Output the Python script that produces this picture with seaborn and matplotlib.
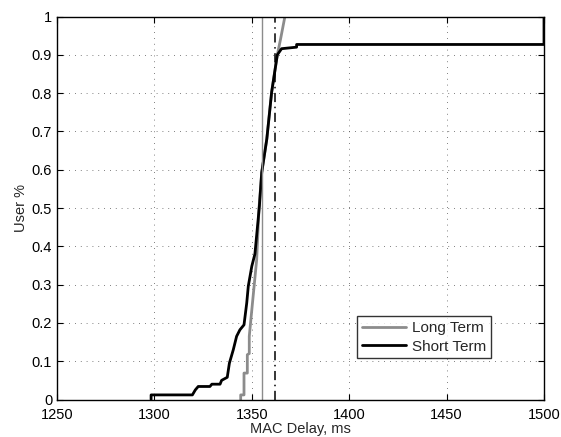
import matplotlib
matplotlib.use("Agg")
import matplotlib.pyplot as plt
import seaborn as sns
import pandas as pd

# Empirical CDF of MAC delay (ms) for the two scheduling policies
long_delay = [1344.3, 1344.3, 1346.0, 1346.0, 1347.7, 1347.7, 1348.7, 1348.7,
              1350.5, 1352.5, 1353.7, 1355.1, 1357.7, 1360.2, 1363.1, 1364.8, 1367.0]
long_cdf = [0.0, 0.012, 0.012, 0.069, 0.069, 0.117, 0.120, 0.165,
            0.260, 0.365, 0.500, 0.593, 0.680, 0.803, 0.900, 0.942, 1.0]

short_delay = [1298.3, 1298.3, 1319.5, 1321.0, 1322.5, 1328.5, 1329.5, 1333.7,
               1334.5, 1337.4, 1338.5, 1340.5, 1342.2, 1343.9, 1346.0, 1347.4,
               1348.2, 1350.0, 1351.6, 1353.9, 1355.1, 1357.7, 1360.2, 1363.1,
               1365.3, 1373.0, 1373.0, 1500.0, 1500.0]
short_cdf = [0.0, 0.012, 0.012, 0.025, 0.034, 0.034, 0.040, 0.040,
             0.050, 0.058, 0.095, 0.130, 0.165, 0.182, 0.195, 0.252,
             0.296, 0.348, 0.380, 0.505, 0.593, 0.680, 0.803, 0.900,
             0.916, 0.920, 0.927, 0.927, 1.0]

# Mean delays
long_mean = 1355.4
short_mean = 1362.0

x_ticks = [1250, 1300, 1350, 1400, 1450, 1500]
y_ticks = [0, 0.1, 0.2, 0.3, 0.4, 0.5, 0.6, 0.7, 0.8, 0.9, 1]
y_tick_labels = ["0", "0.1", "0.2", "0.3", "0.4", "0.5", "0.6", "0.7", "0.8", "0.9", "1"]

sns.set_style("ticks")
plt.rcParams["font.family"] = ["Liberation Sans", "DejaVu Sans"]

long_df = pd.DataFrame({"delay": long_delay, "cdf": long_cdf})
short_df = pd.DataFrame({"delay": short_delay, "cdf": short_cdf})

fig = plt.figure(figsize=(5.61, 4.37), dpi=100)
ax = fig.add_axes([0.1016, 0.0858, 0.8681, 0.8764])

sns.lineplot(data=long_df, x="delay", y="cdf", sort=False, estimator=None,
             color="#8c8c8c", linewidth=2.0, label="Long Term", ax=ax)
sns.lineplot(data=short_df, x="delay", y="cdf", sort=False, estimator=None,
             color="black", linewidth=2.0, label="Short Term", ax=ax)

ax.axvline(long_mean, color="#8c8c8c", linewidth=1.0)
ax.axvline(short_mean, color="black", linewidth=1.1, linestyle=(0, (6, 3, 1, 3)))

ax.set_xlim(1250, 1500)
ax.set_ylim(0, 1)
ax.set_xticks(x_ticks)
ax.set_yticks(y_ticks)
ax.set_yticklabels(y_tick_labels)
ax.tick_params(direction="in", top=True, right=True, length=4, width=0.8,
               labelsize=10.5, colors="black")
ax.tick_params(axis="x", pad=6)
ax.grid(True, linestyle=(0, (1, 6)), color="#555555", linewidth=0.6)
for s in ax.spines.values():
    s.set_color("black")
    s.set_linewidth(1.0)

ax.set_xlabel("MAC Delay, ms", fontsize=10.5, labelpad=0)
ax.set_ylabel("User %", fontsize=10.5, labelpad=3)

leg = ax.legend(loc="lower right", bbox_to_anchor=(0.891, 0.108), fontsize=11,
                frameon=True, fancybox=False, edgecolor="black",
                borderpad=0.3, handlelength=2.9, handletextpad=0.4,
                labelspacing=0.3, borderaxespad=0)
leg.get_frame().set_linewidth(1.0)

fig.savefig("out.png", dpi=100)
